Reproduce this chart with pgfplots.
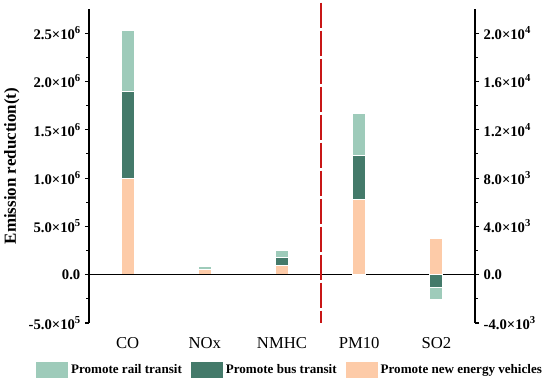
\documentclass[border=0pt]{standalone}
\usepackage{fontspec}
\setmainfont{Liberation Serif}
\usepackage{pgfplots}
\pgfplotsset{compat=1.18}
\definecolor{rail}{RGB}{158,203,186}
\definecolor{bus}{RGB}{68,122,106}
\definecolor{nev}{RGB}{253,203,168}
\definecolor{divred}{RGB}{200,22,22}
\newcommand{\sx}[1]{\raisebox{0.42em}{\fontsize{8}{9}\selectfont #1}}
\pgfplotsset{
 mybar/.style={bar shift=0pt, bar width=9.75pt, draw=white, line width=0.8pt,
   legend image code/.code={\path[##1,draw=none] (0pt,-6pt) rectangle (24pt,6pt);}},
 common/.style={width=289.5pt, height=235.5pt, scale only axis,
   xmin=-0.5, xmax=4.5, ybar, clip=false,
   tick align=outside, major tick length=3pt, minor tick length=2pt,
   minor y tick num=1,
   axis line style={line width=1pt},
   every tick/.style={black, line width=0.8pt},
   yticklabel style={font=\bfseries\fontsize{11}{13}\selectfont}},
}
\begin{document}
\begin{tikzpicture}
\useasboundingbox (-66.75pt,-43.5pt) rectangle (345.75pt,242.25pt);
\begin{axis}[common, at={(0pt,0pt)}, anchor=south west,
  axis y line*=left, axis x line*=bottom,
  x axis line style={draw=none}, major x tick style={draw=none},
  xtick={0,1,2,3,4}, xticklabels={CO,NOx,NMHC,PM10,SO2},
  xticklabel style={anchor=base, yshift=-16.1pt, font=\fontsize{12.5}{14}\selectfont},
  ymin=-5e5, ymax=2.75e6,
  ytick={-5e5,0,5e5,1e6,1.5e6,2e6,2.5e6},
  yticklabels={{-5.0×10\sx{5}},{0.0},{5.0×10\sx{5}},{1.0×10\sx{6}},{1.5×10\sx{6}},{2.0×10\sx{6}},{2.5×10\sx{6}}},
  ylabel={Emission reduction(t)},
  ylabel style={at={(axis description cs:-0.200,0.5)}, anchor=center, font=\bfseries\fontsize{12.7}{14}\selectfont},
  legend style={at={(axis description cs:0.522,-0.150)}, anchor=center, draw=none,
    font=\bfseries\fontsize{9.8}{11}\selectfont, legend columns=3,
    /tikz/every even column/.append style={column sep=5pt}},
]
\addplot[mybar, fill=rail] coordinates {(0,2.526e6) (1,8.3e4) (2,2.48e5)};
\addlegendentry{Promote rail transit}
\addplot[mybar, fill=bus] coordinates {(0,1.894e6) (1,-1.2e4) (2,1.81e5)};
\addlegendentry{Promote bus transit}
\addplot[mybar, fill=nev] coordinates {(0,1.0e6) (1,5.2e4) (2,9.3e4)};
\addlegendentry{Promote new energy vehicles}
\draw[black, line width=1pt] (axis cs:-0.5,0) -- (axis cs:4.5,0);
\draw[divred, line width=1.5pt, dash pattern=on 19pt off 2pt] (axis cs:2.5,2.816e6) -- (axis cs:2.5,-5e5);
\end{axis}
\begin{axis}[common, at={(0pt,0pt)}, anchor=south west,
  axis y line*=right, axis x line=none,
  ymin=-4000, ymax=22000,
  ytick={-4000,0,4000,8000,12000,16000,20000},
  yticklabels={{-4.0×10\sx{3}},{0.0},{4.0×10\sx{3}},{8.0×10\sx{3}},{1.2×10\sx{4}},{1.6×10\sx{4}},{2.0×10\sx{4}}},
]
\addplot[mybar, fill=rail, forget plot] coordinates {(3,13330) (4,-2070)};
\addplot[mybar, fill=bus, forget plot] coordinates {(3,9860) (4,-1080)};
\addplot[mybar, fill=nev, forget plot] coordinates {(3,6200) (4,3000)};
\end{axis}
\end{tikzpicture}
\end{document}
